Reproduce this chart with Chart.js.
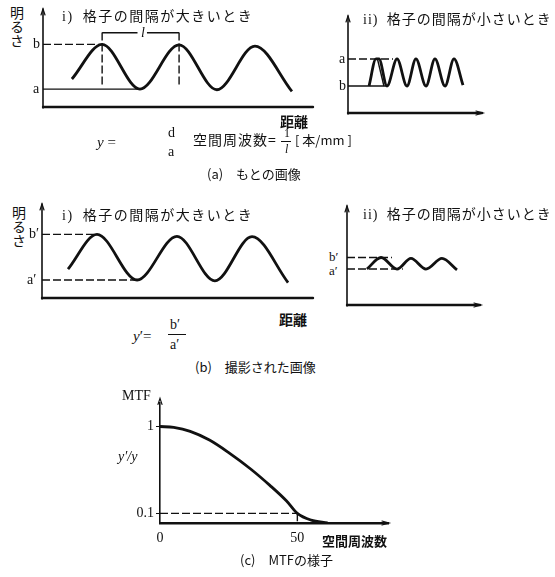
<!DOCTYPE html>
<html lang="ja">
<head>
<meta charset="utf-8">
<script src="https://cdn.jsdelivr.net/npm/chart.js@4"></script>
<style>
  body { margin: 0; background: #fff; }
  #page { position: relative; width: 555px; height: 577px; overflow: hidden;
          font-family: "Noto Sans CJK JP", sans-serif; color: #111; }
  #page canvas { position: absolute; }
  .t { position: absolute; white-space: nowrap; line-height: 1; font-size: 14px; }
  .s { font-family: "Liberation Serif", "DejaVu Serif", serif; }
  .v { writing-mode: vertical-rl; }
  .bar { position: absolute; border-top: 1px solid #111; height: 0; }
</style>
</head>
<body>
<div id="page">
  <canvas id="wideA"></canvas>
  <canvas id="narrowA"></canvas>
  <canvas id="wideB"></canvas>
  <canvas id="narrowB"></canvas>
  <canvas id="mtf"></canvas>

  <!-- (a) -->
  <div class="t v" style="left:10px;top:6px;">明るさ</div>
  <div class="t" style="left:62px;top:8px;letter-spacing:1.5px;"><span class="s">i)</span>&nbsp; 格子の間隔が大きいとき</div>
  <div class="t s" style="left:33px;top:37px;">b</div>
  <div class="t s" style="left:33px;top:82px;">a</div>
  <div class="t s" style="left:141px;top:26px;font-style:italic;">l</div>
  <div class="t" style="left:280px;top:114px;font-weight:700;">距離</div>
  <div class="t s" style="left:97px;top:135px;font-size:15px;"><i>y</i> =</div>
  <div class="t s" style="left:168px;top:126px;">d</div>
  <div class="t s" style="left:168px;top:145px;">a</div>
  <div class="t" style="left:193px;top:132px;letter-spacing:1px;">空間周波数=</div>
  <div class="t s" style="left:284px;top:127px;font-size:12px;">1</div>
  <div class="bar" style="left:281px;top:141px;width:10px;"></div>
  <div class="t s" style="left:285px;top:143px;font-size:12px;font-style:italic;">l</div>
  <div class="t" style="left:295px;top:133px;font-size:13px;">[ 本/mm ]</div>
  <div class="t" style="left:207px;top:167px;font-size:13px;">(a)　もとの画像</div>

  <div class="t" style="left:363px;top:11px;letter-spacing:1px;"><span class="s">ii)</span>&nbsp; 格子の間隔が小さいとき</div>
  <div class="t s" style="left:339px;top:52px;">a</div>
  <div class="t s" style="left:339px;top:79px;">b</div>

  <!-- (b) -->
  <div class="t v" style="left:12px;top:206px;">明るさ</div>
  <div class="t" style="left:62px;top:207px;letter-spacing:1.5px;"><span class="s">i)</span>&nbsp; 格子の間隔が大きいとき</div>
  <div class="t s" style="left:29px;top:227px;">b′</div>
  <div class="t s" style="left:27px;top:273px;">a′</div>
  <div class="t" style="left:279px;top:312px;font-weight:700;">距離</div>
  <div class="t s" style="left:133px;top:329px;font-size:15px;"><i>y</i>′=</div>
  <div class="t s" style="left:170px;top:318px;">b′</div>
  <div class="bar" style="left:168px;top:334px;width:18px;"></div>
  <div class="t s" style="left:170px;top:338px;">a′</div>
  <div class="t" style="left:195px;top:360px;font-size:13px;">(b)　撮影された画像</div>

  <div class="t" style="left:363px;top:206px;letter-spacing:1px;"><span class="s">ii)</span>&nbsp; 格子の間隔が小さいとき</div>
  <div class="t s" style="left:329px;top:250px;font-size:13px;">b′</div>
  <div class="t s" style="left:329px;top:264px;font-size:13px;">a′</div>

  <!-- (c) -->
  <div class="t s" style="left:122px;top:389px;">MTF</div>
  <div class="t s" style="left:118px;top:450px;font-style:italic;">y′/y</div>
  <div class="t" style="left:322px;top:534px;font-size:13px;font-weight:700;">空間周波数</div>
  <div class="t" style="left:240px;top:553px;font-size:13px;">(c)　MTFの様子</div>
</div>

<script>
// (a) もとの画像 — 距離 / 明るさ
const wideDistA = [1.07, 2.19, 3.59, 5.04, 6.44, 7.85, 9.22];
const wideBrightA = [1.25, 2.8, 0.8, 2.78, 0.77, 2.72, 0.7];
const narrowDistA = [1.57, 2.09, 2.31, 2.91, 3.66, 4.40, 5.07, 5.82, 6.49, 7.24, 7.91, 8.58];
const narrowBrightA = [1.22, 2.44, 2.44, 1.22, 2.44, 1.22, 2.44, 1.22, 2.44, 1.22, 2.44, 1.26];

// (b) 撮影された画像
const wideDistB = [0.96, 2.03, 3.51, 4.98, 6.38, 7.75, 9.08];
const wideBrightB = [1.35, 2.97, 0.84, 2.88, 0.8, 2.86, 0.72];
const narrowDistB = [1.5, 2.56, 3.76, 4.81, 5.94, 7.14, 8.27];
const narrowBrightB = [1.59, 2.1, 1.59, 2.06, 1.59, 2.06, 1.55];

// (c) MTF
const mtfFreq = [0, 5, 11, 18, 25, 33, 40, 46, 50, 55, 61];
const mtfValue = [1, 0.99, 0.95, 0.86, 0.73, 0.56, 0.39, 0.23, 0.1, 0.03, 0];
const mtfTicksX = [0, 50];
const mtfTicksY = [0.1, 1];

const INK = '#111';

function pts(xs, ys) {
  return xs.map((x, i) => ({ x: x, y: ys[i] }));
}

function curve(xs, ys) {
  return { data: pts(xs, ys), borderColor: INK, borderWidth: 2.8, pointRadius: 0,
           cubicInterpolationMode: 'monotone' };
}

function guide(xs, ys, dashed) {
  return { data: pts(xs, ys), borderColor: INK, borderWidth: 1.4, pointRadius: 0,
           borderDash: dashed ? [8, 3] : [], tension: 0 };
}

// axis lines with small arrow heads
const axisArrows = {
  id: 'axisArrows',
  afterDraw(chart, args, opts) {
    const ctx = chart.ctx;
    const a = chart.chartArea;
    ctx.save();
    ctx.strokeStyle = INK;
    ctx.lineCap = 'round';
    if (opts.drawAxes) {
      ctx.lineWidth = 1.6;
      ctx.beginPath();
      ctx.moveTo(a.left, a.bottom + 1);
      ctx.lineTo(a.left, a.top - 4);
      ctx.stroke();
      ctx.lineWidth = 2.4;
      ctx.beginPath();
      ctx.moveTo(a.left, a.bottom);
      ctx.lineTo(a.right, a.bottom);
      ctx.stroke();
    }
    ctx.lineWidth = 1.2;
    ctx.beginPath();
    ctx.moveTo(a.left - 2, a.top + 2);
    ctx.lineTo(a.left, a.top - 4);
    ctx.lineTo(a.left + 2, a.top + 2);
    ctx.stroke();
    if (opts.xArrow) {
      ctx.beginPath();
      ctx.moveTo(a.right - 6, a.bottom - 2);
      ctx.lineTo(a.right + 1, a.bottom);
      ctx.lineTo(a.right - 6, a.bottom + 2);
      ctx.stroke();
    }
    ctx.restore();
  }
};

function plot(id, box, xMax, yMax, datasets, xArrow) {
  const pad = 8;
  const cv = document.getElementById(id);
  const w = box.r - box.l + 2 * pad, h = box.b - box.t + 2 * pad;
  cv.width = w; cv.height = h;
  cv.style.width = w + 'px'; cv.style.height = h + 'px';
  cv.style.left = (box.l - pad) + 'px';
  cv.style.top = (box.t - pad) + 'px';
  return new Chart(cv, {
    type: 'line',
    data: { datasets: datasets },
    options: {
      responsive: false, animation: false, devicePixelRatio: 1,
      layout: { padding: pad },
      plugins: { legend: { display: false }, tooltip: { enabled: false },
                 axisArrows: { drawAxes: true, xArrow: xArrow } },
      scales: {
        x: { type: 'linear', min: 0, max: xMax, display: false },
        y: { min: 0, max: yMax, display: false }
      }
    },
    plugins: [axisArrows]
  });
}

// (a) i)
const pA = wideDistA[1], qA = wideDistA[3], tA = wideDistA[2];
plot('wideA', { l: 43, r: 313, t: 13, b: 107 }, 10, 4.2, [
  curve(wideDistA, wideBrightA),
  guide([0, pA], [wideBrightA[1], wideBrightA[1]], true),
  guide([0, tA], [wideBrightA[2], wideBrightA[2]], false),
  guide([pA, pA], [1.0, 3.44], true),
  guide([qA, qA], [1.0, 3.44], true),
  guide([pA, 3.5, 3.6, 3.85, qA], [3.32, 3.32, null, 3.32, 3.32], false)
], false);

// (a) ii)
plot('narrowA', { l: 348, r: 482, t: 20, b: 113 }, 10, 4.2, [
  curve(narrowDistA, narrowBrightA),
  guide([2.2, 2.68], [2.44, 1.22], false),
  guide([0, 3.36], [narrowBrightA[1], narrowBrightA[1]], true),
  guide([0, narrowDistA[3]], [narrowBrightA[0], narrowBrightA[0]], false)
], true);

// (b) i)
plot('wideB', { l: 42, r: 313, t: 208, b: 298 }, 10, 4.2, [
  curve(wideDistB, wideBrightB),
  guide([0, wideDistB[1]], [wideBrightB[1], wideBrightB[1]], true),
  guide([0, 3.6], [wideBrightB[2], wideBrightB[2]], true)
], false);

// (b) ii)
plot('narrowB', { l: 347, r: 480, t: 210, b: 305 }, 10, 4.2, [
  curve(narrowDistB, narrowBrightB),
  guide([0, 3.38], [narrowBrightB[1], narrowBrightB[1]], true),
  guide([0, 4.2], [narrowBrightB[0], narrowBrightB[0]], true)
], true);

// (c) MTF
(function () {
  const cv = document.getElementById('mtf');
  const yw = 30, xh = 20, pt = 8, pr = 8;
  const box = { l: 160, r: 388, t: 400, b: 523 };
  const w = yw + (box.r - box.l) + pr, h = pt + (box.b - box.t) + xh;
  cv.width = w; cv.height = h;
  cv.style.width = w + 'px'; cv.style.height = h + 'px';
  cv.style.left = (box.l - yw) + 'px';
  cv.style.top = (box.t - pt) + 'px';
  const tickFont = { family: 'Liberation Serif', size: 14 };
  new Chart(cv, {
    type: 'line',
    data: {
      datasets: [
        curve(mtfFreq, mtfValue),
        guide([0, 50], [0.1, 0.1], true),
        guide([50, 50], [0.1, 0], true)
      ]
    },
    options: {
      responsive: false, animation: false, devicePixelRatio: 1,
      layout: { padding: { top: pt, right: pr, left: 0, bottom: 0 } },
      plugins: { legend: { display: false }, tooltip: { enabled: false },
                 axisArrows: { drawAxes: false, xArrow: true } },
      scales: {
        x: {
          type: 'linear', min: 0, max: 83,
          afterBuildTicks: s => { s.ticks = mtfTicksX.map(v => ({ value: v })); },
          afterFit: s => { s.height = xh; },
          grid: { display: false },
          border: { display: true, color: INK, width: 2.4 },
          ticks: { color: INK, font: tickFont, padding: -1, maxRotation: 0,
                   callback: v => String(v) }
        },
        y: {
          min: 0, max: 1.25,
          afterBuildTicks: s => { s.ticks = mtfTicksY.map(v => ({ value: v })); },
          afterFit: s => { s.width = yw; },
          grid: { display: true, drawOnChartArea: false, drawTicks: true, tickLength: 4, color: INK },
          border: { display: true, color: INK, width: 1.6 },
          ticks: { color: INK, font: tickFont, padding: 2, callback: v => String(v) }
        }
      }
    },
    plugins: [axisArrows]
  });
})();
</script>
</body>
</html>
